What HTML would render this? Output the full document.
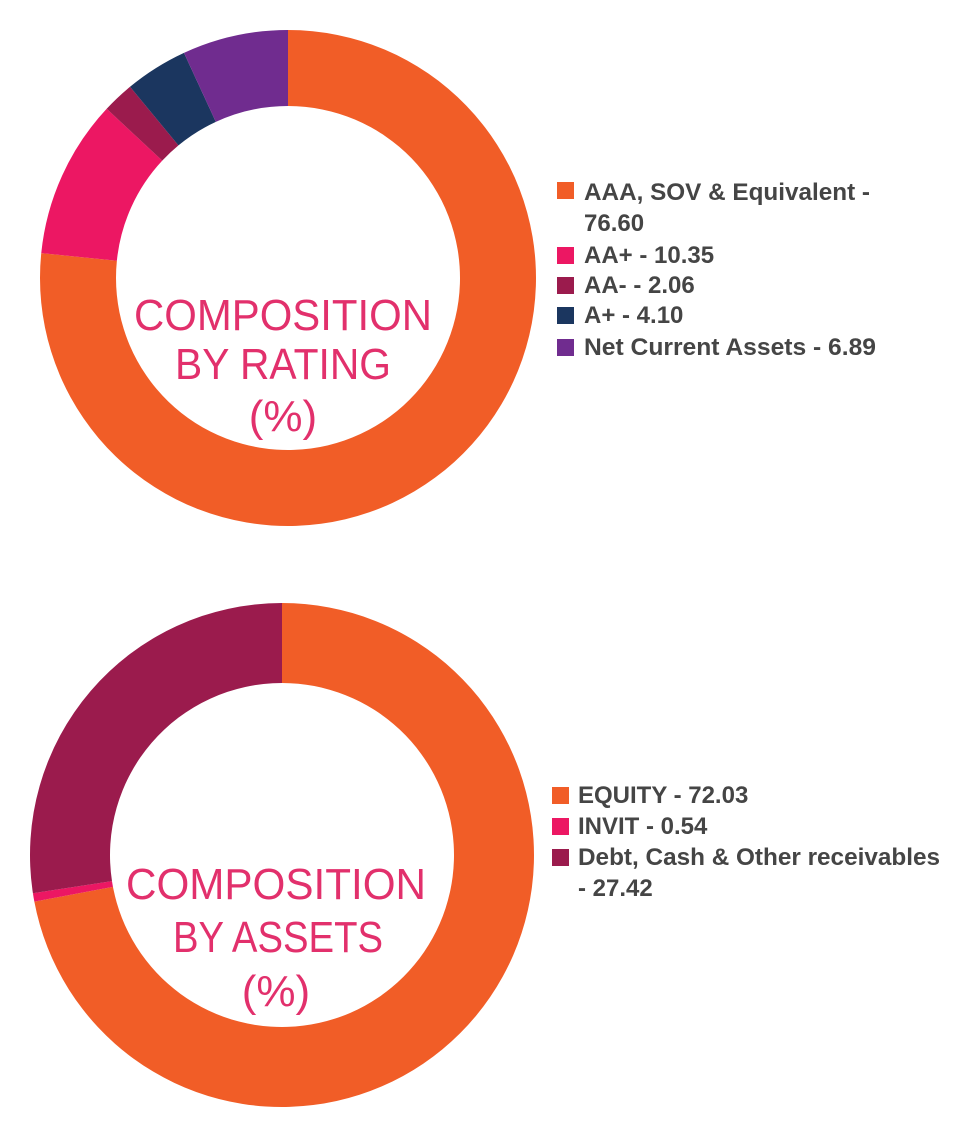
<!DOCTYPE html>
<html><head><meta charset="utf-8"><style>
html,body{margin:0;padding:0;background:#fff;}
body{width:960px;height:1135px;overflow:hidden;position:relative;font-family:"Liberation Sans",sans-serif;}
svg{position:absolute;left:0;top:0;}
.lg{font-family:"Liberation Sans",sans-serif;font-size:24px;font-weight:bold;fill:#454545;}
.ct{font-family:"Liberation Sans",sans-serif;font-size:44px;fill:#e2306c;text-anchor:middle;}
</style></head><body>
<svg id="s" width="960" height="1135" viewBox="0 0 960 1135">
<g id="d1"></g><g id="d2"></g>
<text class="ct" x="283" y="330" textLength="298" lengthAdjust="spacingAndGlyphs">COMPOSITION</text>
<text class="ct" x="283" y="379" textLength="216" lengthAdjust="spacingAndGlyphs">BY RATING</text>
<text class="ct" x="283" y="431">(%)</text>
<text class="ct" x="276" y="899" textLength="300" lengthAdjust="spacingAndGlyphs">COMPOSITION</text>
<text class="ct" x="278" y="952" textLength="210" lengthAdjust="spacingAndGlyphs">BY ASSETS</text>
<text class="ct" x="276" y="1006">(%)</text>

<rect x="557" y="182" width="17" height="17" fill="#f15d27"/>
<text class="lg" x="584" y="200" textLength="286" lengthAdjust="spacingAndGlyphs">AAA, SOV &amp; Equivalent -</text>
<text class="lg" x="584" y="231">76.60</text>
<rect x="557" y="247" width="17" height="17" fill="#ec1763"/>
<text class="lg" x="584" y="263">AA+ - 10.35</text>
<rect x="557" y="277" width="17" height="17" fill="#9b1b4d"/>
<text class="lg" x="584" y="293">AA- - 2.06</text>
<rect x="557" y="307" width="17" height="17" fill="#1b365f"/>
<text class="lg" x="584" y="323">A+ - 4.10</text>
<rect x="557" y="339" width="17" height="17" fill="#702c8f"/>
<text class="lg" x="584" y="355" textLength="292" lengthAdjust="spacingAndGlyphs">Net Current Assets - 6.89</text>

<rect x="552" y="787" width="17" height="17" fill="#f15d27"/>
<text class="lg" x="578" y="803">EQUITY - 72.03</text>
<rect x="552" y="818" width="17" height="17" fill="#ec1763"/>
<text class="lg" x="578" y="834">INVIT - 0.54</text>
<rect x="552" y="849" width="17" height="17" fill="#9b1b4d"/>
<text class="lg" x="578" y="865" textLength="362" lengthAdjust="spacingAndGlyphs">Debt, Cash &amp; Other receivables</text>
<text class="lg" x="578" y="896">- 27.42</text>
</svg>
<script>
function donut(id,cx,cy,R,r,data){
  var g=document.getElementById(id),a=0,tot=data.reduce(function(s,d){return s+d[0]},0),h='';
  data.forEach(function(d){
    var a0=a/tot*2*Math.PI,a1=(a+d[0])/tot*2*Math.PI;a+=d[0];
    var la=(a1-a0)>Math.PI?1:0;
    function p(rad,ang){return (cx+rad*Math.sin(ang)).toFixed(2)+' '+(cy-rad*Math.cos(ang)).toFixed(2);}
    h+='<path fill="'+d[1]+'" d="M'+p(R,a0)+' A'+R+' '+R+' 0 '+la+' 1 '+p(R,a1)+' L'+p(r,a1)+' A'+r+' '+r+' 0 '+la+' 0 '+p(r,a0)+' Z"/>';
  });
  g.innerHTML=h;
}
donut('d1',288,278,248,172,[[76.60,'#f15d27'],[10.35,'#ec1763'],[2.06,'#9b1b4d'],[4.10,'#1b365f'],[6.89,'#702c8f']]);
donut('d2',282,855,252,172,[[72.03,'#f15d27'],[0.54,'#ec1763'],[27.42,'#9b1b4d']]);
</script>
</body></html>
